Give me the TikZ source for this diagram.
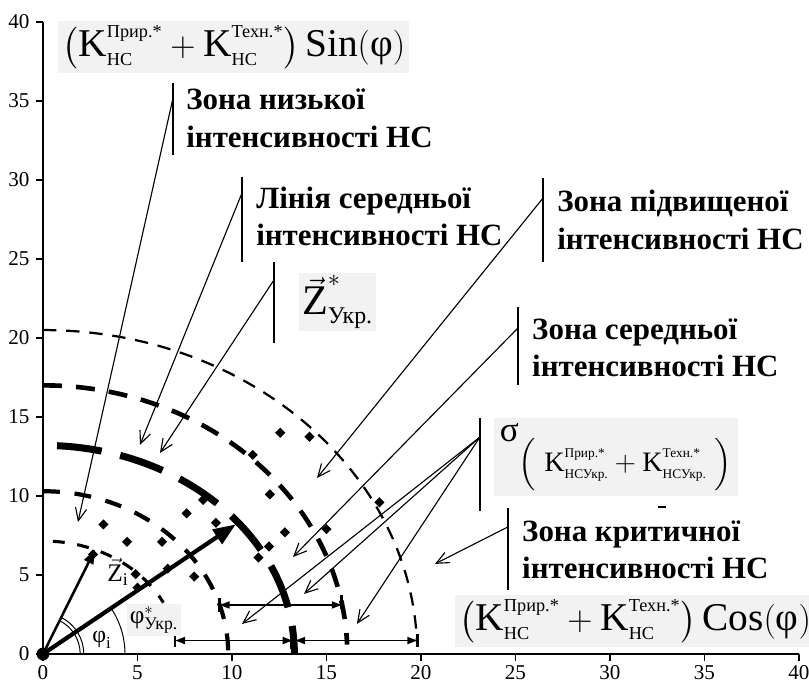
\documentclass[tikz,border=0pt]{standalone}
\usepackage{amsmath}
\usepackage{fontspec}
\setmainfont{Liberation Serif}
\usetikzlibrary{arrows.meta,shapes.geometric}

\DeclareMathSizes{28}{28}{13}{10}
\DeclareMathSizes{30}{30}{17}{12}
\DeclareMathSizes{20}{20}{9.5}{7}

\definecolor{fonformuly}{gray}{0.95}

\tikzset{
  zona/.style={anchor=west, align=left, inner sep=0pt,
    font=\fontsize{22}{26.5}\selectfont\bfseries},
  planka/.style={line width=1.1pt},
  vynoska/.style={line width=0.8pt, -{Straight Barb[length=9pt,width=8pt]}},
  formula/.style={fill=fonformuly, inner sep=3pt, font=\fontsize{28}{32}\selectfont},
  tochka/.style={diamond, fill=black, inner sep=0pt, minimum size=0.26cm},
  rozmir/.style={line width=1.2pt, {Triangle[length=7pt,width=5pt]}-{Triangle[length=7pt,width=5pt]}},
  mitka/.style={font=\fontsize{15}{17}\selectfont, inner sep=0pt},
}

\begin{document}
\begin{tikzpicture}[x=0.4725cm, y=0.395cm]
  \useasboundingbox (-2.275,-2.342) rectangle (40.53,41.39);

  % осі
  \draw[line width=0.8pt] (0,40) -- (0,0) -- (40,0);
  \foreach \k in {0,5,...,40} {
    \draw[line width=0.8pt] (\k,0) -- ++(0,-0.17cm);
    \node[mitka] (xm\k) at ([yshift=-0.47cm]\k,0) {\k};
    \draw[line width=0.8pt] (0,\k) -- ++(-0.17cm,0);
    \node[mitka, anchor=east] (ym\k) at ([xshift=-0.33cm]0,\k) {\k};
  }

  % дуги
  \draw[line width=2.2pt, dash pattern=on 8.5pt off 9pt, dash phase=10.5pt]
    (0,7.15) arc[start angle=90, end angle=27, radius=7.15];
  \draw[line width=3pt, dash pattern=on 12pt off 10.5pt]
    (0,10.3) arc[start angle=90, end angle=1, x radius=9.8, y radius=10.3];
  \draw[line width=5pt, dash pattern=on 32pt off 13.5pt, dash phase=35.5pt]
    (0,13.2) arc[start angle=90, end angle=0, x radius=13.3, y radius=13.2];
  \draw[line width=3.3pt, dash pattern=on 13.5pt off 10pt]
    (0,17) arc[start angle=90, end angle=2, x radius=16.1, y radius=17];
  \draw[line width=1.6pt, dash pattern=on 9.5pt off 7pt]
    (0,20.5) arc[start angle=90, end angle=2, x radius=19.8, y radius=20.5];

  % точки
  \foreach \p [count=\n] in {(8.47,9.75),(7.6,8.9),(9.15,8.3),(3.2,8.2),(4.45,7.1),
      (6.3,7.1),(2.65,6.3),(4.9,5.05),(6.6,5.4),(8.0,4.9),(5.0,4.2),(12.0,10.1),
      (17.8,9.6),(12.8,7.7),(15.0,7.9),(11.96,6.8),(11.4,6.1),(12.55,14.0),
      (14.1,13.75),(11.1,12.6)}
    \node[tochka] (t\n) at \p {};

  % розміри
  \coordinate (d1) at (7.0,0.85);
  \coordinate (d2) at (13.2,0.85);
  \coordinate (d3) at (13.35,0.85);
  \coordinate (d4) at (19.8,0.85);
  \coordinate (d5) at (9.35,3.1);
  \coordinate (d6) at (15.8,3.1);
  \draw[rozmir] (d1) -- (d2);
  \draw[rozmir] (d3) -- (d4);
  \draw[rozmir] (d5) -- (d6);
  \draw[line width=1.6pt] ([yshift=-0.15cm]d1) -- ([yshift=0.15cm]d1);
  \draw[line width=3pt] ([yshift=-0.22cm]d2) -- ([yshift=0.22cm]d2);
  \draw[line width=2pt] ([yshift=-0.16cm]d4) -- ([yshift=0.16cm]d4);
  \draw[line width=2pt] ([yshift=-0.18cm]d5) -- ([yshift=0.18cm]d5);
  \draw[line width=2.5pt] ([yshift=-0.1cm]d6) -- ([yshift=0.25cm]d6);

  % вектори
  \coordinate (O) at (0,0);
  \coordinate (Zi) at (2.75,6.6);
  \coordinate (Zu) at (10.2,8.2);
  \draw[line width=1.8pt, -{Triangle[length=10pt,width=7pt]}] (O) -- (Zi);
  \draw[line width=3pt, -{Triangle[length=16pt,width=12pt]}] (O) -- (Zu);
  \fill (O) circle[radius=0.16cm];

  % кути
  \draw[line width=0.7pt] (0.93cm,0) arc[start angle=0, end angle=63.5, radius=0.93cm];
  \draw[line width=0.7pt] (1.02cm,0) arc[start angle=0, end angle=63.5, radius=1.02cm];
  \draw[line width=0.7pt] (2.05cm,0) arc[start angle=0, end angle=33.9, radius=2.05cm];
  \node[font=\fontsize{17}{20}\selectfont, inner sep=0pt] (fi) at (3.12,0.89) {$\text{φ}_{\text{i}}$};
  \node[formula, font=\fontsize{18}{21}\selectfont, inner sep=2pt] (fu) at (5.87,2.15)
    {$\text{φ}^{*}_{\text{Укр.}}$};
  \node[font=\fontsize{18}{21}\selectfont, inner sep=0pt] (zi) at (3.97,5.19) {$\vec{\text{Z}}_{\text{i}}$};

  % зона низької
  \node[zona] (zn) at (7.57,33.9) {Зона низької\\інтенсивності НС};
  \coordinate (zn1) at (6.88,36.14);
  \coordinate (zn2) at (6.88,31.58);
  \coordinate (zn3) at (6.88,35.19);
  \coordinate (zn4) at (1.85,8.35);
  \draw[planka] (zn1) -- (zn2);
  \draw[vynoska] (zn3) -- (zn4);

  % лінія середньої
  \node[zona] (ls) at (11.27,27.7) {Лінія середньої\\інтенсивності НС};
  \coordinate (ls1) at (10.53,30.19);
  \coordinate (ls2) at (10.53,24.81);
  \coordinate (ls3) at (10.53,29.18);
  \coordinate (ls4) at (5.13,13.23);
  \draw[planka] (ls1) -- (ls2);
  \draw[vynoska] (ls3) -- (ls4);

  % вектор Z*
  \node[formula, font=\fontsize{30}{34}\selectfont, inner sep=2pt] (zu) at (15.58,22.28)
    {$\vec{\text{Z}}^{*}_{\text{Укр.}}$};
  \coordinate (zu1) at (12.22,24.81);
  \coordinate (zu2) at (12.22,19.68);
  \coordinate (zu3) at (12.22,23.67);
  \coordinate (zu4) at (6.19,12.72);
  \draw[planka] (zu1) -- (zu2);
  \draw[vynoska] (zu3) -- (zu4);

  % зона підвищеної
  \node[zona] (zp) at (27.2,27.47) {Зона підвищеної\\інтенсивності НС};
  \coordinate (zp1) at (26.46,30.13);
  \coordinate (zp2) at (26.46,24.81);
  \coordinate (zp3) at (26.46,28.86);
  \coordinate (zp4) at (14.5,11.14);
  \draw[planka] (zp1) -- (zp2);
  \draw[vynoska] (zp3) -- (zp4);

  % зона середньої
  \node[zona] (zs) at (25.87,19.37) {Зона середньої\\інтенсивності НС};
  \coordinate (zs1) at (25.13,21.96);
  \coordinate (zs2) at (25.13,17.03);
  \coordinate (zs3) at (25.13,20.63);
  \coordinate (zs4) at (13.23,6.14);
  \draw[planka] (zs1) -- (zs2);
  \draw[vynoska] (zs3) -- (zs4);

  % сигма
  \node[formula, anchor=north west, font=\fontsize{25}{28}\selectfont, inner sep=4pt] (sg) at (23.86,14.94)
    {σ\raisebox{-0.85em}{\fontsize{20}{22}\selectfont$\Bigl(\;\text{K}^{\text{Прир.*}}_{\text{НСУкр.}}
      +\text{K}^{\text{Техн.*}}_{\text{НСУкр.}}\;\Bigr)$}};
  \coordinate (sg1) at (23.12,14.94);
  \coordinate (sg2) at (23.12,9.05);
  \coordinate (sg3) at (23.12,13.73);
  \coordinate (sg4) at (10.53,1.9);
  \coordinate (sg5) at (13.81,3.8);
  \coordinate (sg6) at (16.61,1.9);
  \draw[planka] (sg1) -- (sg2);
  \draw[vynoska] (sg3) -- (sg4);
  \draw[vynoska] (sg3) -- (sg5);
  \draw[vynoska] (sg3) -- (sg6);
  \draw[line width=1pt] (32.55,9.3) -- (32.95,9.3);

  % зона критичної
  \node[zona] (zk) at (25.34,6.58) {Зона критичної\\інтенсивності НС};
  \coordinate (zk1) at (24.6,9.24);
  \coordinate (zk2) at (24.6,4.05);
  \coordinate (zk3) at (24.6,8.04);
  \coordinate (zk4) at (20.74,5.7);
  \draw[planka] (zk1) -- (zk2);
  \draw[vynoska] (zk3) -- (zk4);

  % підписи осей
  \node[formula, anchor=west] (fsin) at (0.79,38.4)
    {$\bigl(\text{K}^{\text{Прир.*}}_{\text{НС}}+\text{K}^{\text{Техн.*}}_{\text{НС}}\bigr)\,\text{Sin}(\text{φ})$};
  \node[formula, anchor=west] (fcos) at (21.8,2.09)
    {$\bigl(\text{K}^{\text{Прир.*}}_{\text{НС}}+\text{K}^{\text{Техн.*}}_{\text{НС}}\bigr)\,\text{Cos}(\text{φ})$};
\end{tikzpicture}
\end{document}
